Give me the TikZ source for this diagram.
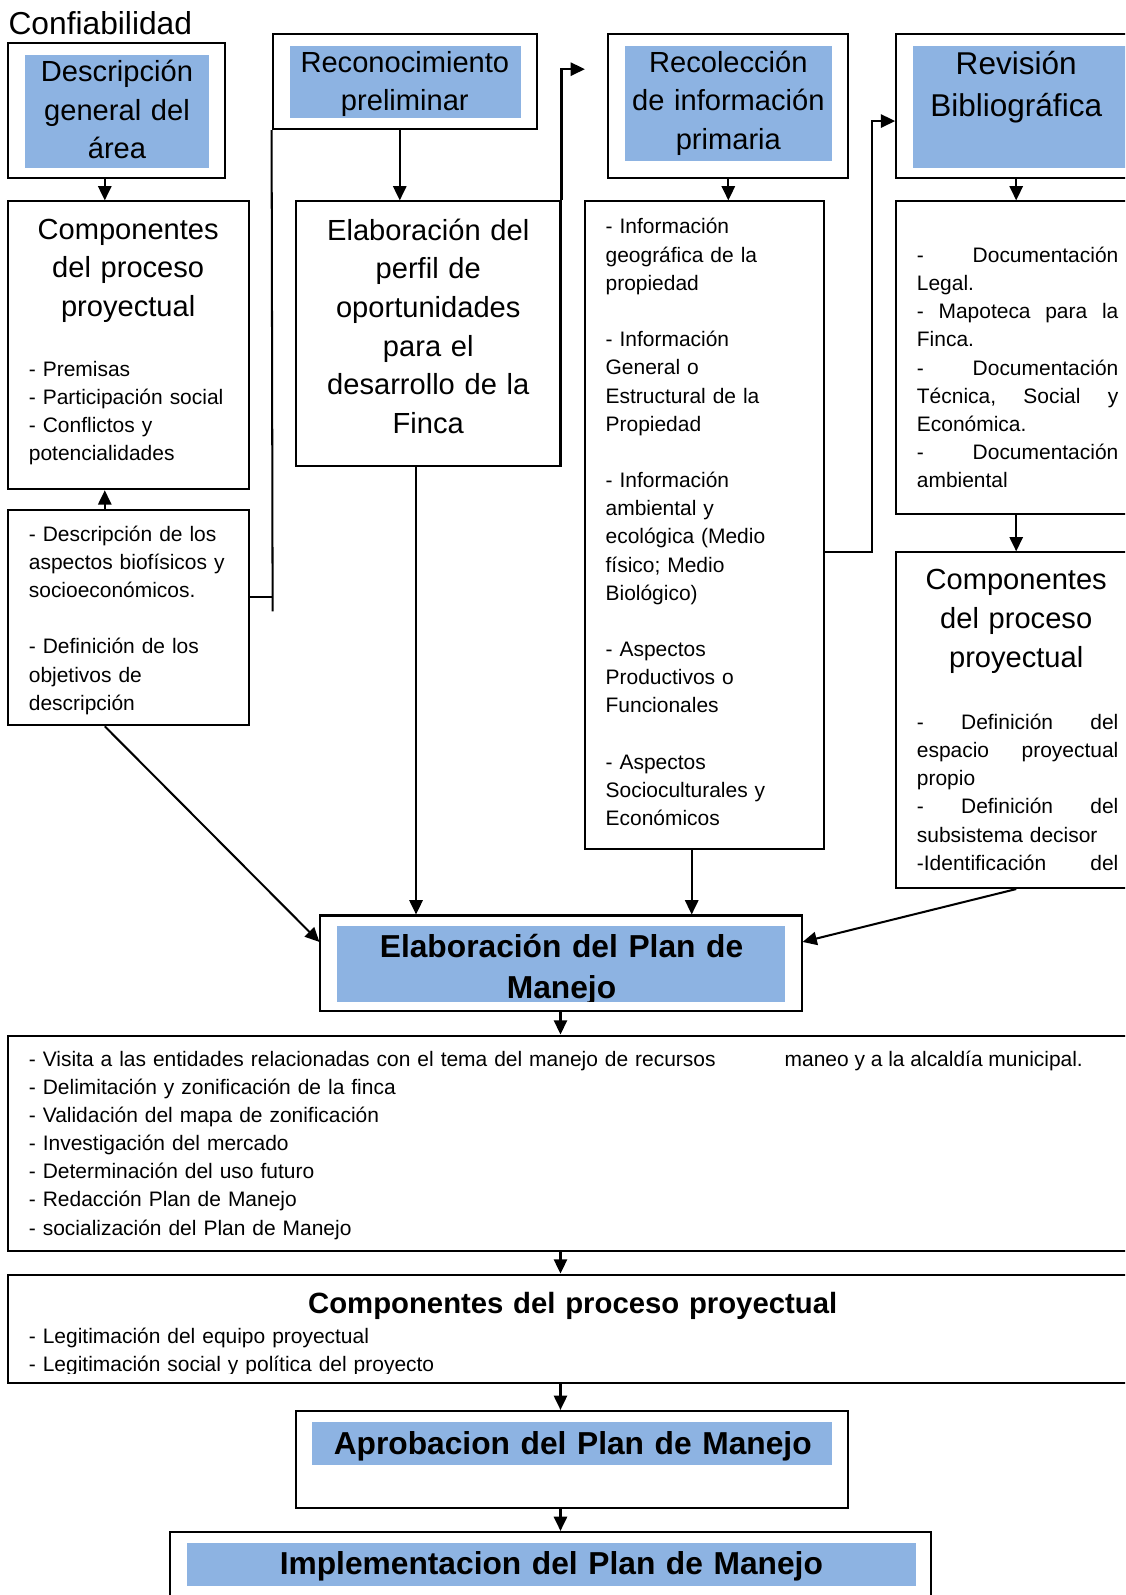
\documentclass[tikz,border=0pt]{standalone}
\usepackage{fontspec}
\setmainfont{Liberation Sans}
\usetikzlibrary{arrows.meta,fit}
\definecolor{azulcaja}{HTML}{8DB3E2}

\begin{document}
\begin{tikzpicture}[x=0.5pt,y=-0.5pt,
            >={Triangle[length=7pt,width=6.5pt]},
            caja/.style={draw,line width=1pt,inner sep=0pt},
            fondo/.style={fill=azulcaja,inner sep=0pt},
            titulo/.style={font=\fontsize{14.3}{19}\selectfont,align=center,inner sep=0pt,anchor=base},
            lista/.style={font=\fontsize{10.3}{13.85}\selectfont,align=left,inner sep=0pt,anchor=base west},
            negrita/.style={font=\bfseries\fontsize{15.6}{20.5}\selectfont,align=center,inner sep=0pt,anchor=base},
            linea/.style={line width=1pt}]
            \useasboundingbox (0,0) rectangle (1106,1568);
            \clip (0,0) rectangle (1106,1568);

            \node[anchor=base west,inner sep=0pt,font=\fontsize{15.6}{18}\selectfont] (conf) at (8,34) {Confiabilidad};

            \node[caja,fit={(8,42)(221,175)}] (A) {};
            \node[fondo,fit={(25,54)(205,165)}] (Ab) {};
            \node[titulo,text width=90pt] (At) at (115,80) {Descripción\\general del\\área};

            \node[caja,fit={(268,33)(528,127)}] (B) {};
            \node[fondo,fit={(285,45)(512,116)}] (Bb) {};
            \node[titulo,text width=112pt] (Bt) at (398,71) {Reconocimiento\\preliminar};

            \node[caja,fit={(598,33)(834,175)}] (C) {};
            \node[fondo,fit={(614,45)(818,158)}] (Cb) {};
            \node[titulo,text width=100pt] (Ct) at (716,71) {Recolección\\de información\\primaria};

            \node[caja,fit={(881,33)(1130,175)}] (D) {};
            \node[fondo,fit={(898,45)(1120,165)}] (Db) {};
            \node[titulo,font=\fontsize{15.5}{21}\selectfont,text width=100pt] (Dt) at (999,73) {Revisión\\Bibliográfica};

            \node[caja,fit={(8,198)(245,481)}] (E) {};
            \node[titulo,text width=112pt] (Et) at (126,235) {Componentes\\del proceso\\proyectual};
            \node[lista,text width=105pt] (El) at (28,370) {- Premisas\\- Participación social\\- Conflictos y\\potencialidades};

            \node[caja,fit={(291,198)(551,458)}] (F) {};
            \node[titulo,text width=125pt] (Ft) at (421,236) {Elaboración del\\perfil de\\oportunidades\\para el\\desarrollo de la\\Finca};

            \node[caja,fit={(575,198)(810,835)}] (G) {};
            \node[lista,text width=105pt] (Gl) at (595,230) {- Información\\geográfica de la\\propiedad\\[13.85pt]- Información\\General o\\Estructural de la\\Propiedad\\[13.85pt]- Información\\ambiental y\\ecológica (Medio\\físico; Medio\\Biológico)\\[13.85pt]- Aspectos\\Productivos o\\Funcionales\\[13.85pt]- Aspectos\\Socioculturales y\\Económicos};

            \node[caja,fit={(881,198)(1130,505)}] (H) {};
            \node[lista,text width=99pt] (Hl) at (901,258) {-\hfill Documentación\\Legal.\\-\hfill Mapoteca\hfill para\hfill la\\Finca.\\-\hfill Documentación\\Técnica,\hfill Social\hfill y\\Económica.\\-\hfill Documentación\\ambiental};

            \node[caja,fit={(8,501)(245,713)}] (I) {};
            \node[lista,text width=105pt] (Il) at (28,532) {- Descripción de los\\aspectos biofísicos y\\socioeconómicos.\\[13.85pt]- Definición de los\\objetivos de\\descripción};

            \node[caja,fit={(881,543)(1130,873)}] (J) {};
            \node[titulo,text width=110pt] (Jt) at (999,580) {Componentes\\del proceso\\proyectual};
            \node[lista,text width=99pt] (Jl) at (901,717) {-\hfill Definición\hfill del\\espacio\hfill proyectual\\propio\\-\hfill Definición\hfill del\\subsistema decisor\\-Identificación\hfill del};

            \node[caja,fit={(315,900)(788,994)}] (K) {};
            \node[fondo,fit={(331,910)(772,985)}] (Kb) {};
            \begin{scope}
                \clip (331,910) rectangle (772,985);
                \node[negrita,text width=215pt] (Kt) at (552,941) {Elaboración del Plan de\\Manejo};
            \end{scope}

            \node[caja,fit={(8,1018)(1130,1230)}] (L) {};
            \node[lista,text width=360pt] (Ll) at (28,1048) {- Visita a las entidades relacionadas con el tema del manejo de recursos\\- Delimitación y zonificación de la finca\\- Validación del mapa de zonificación\\- Investigación del mercado\\- Determinación del uso futuro\\- Redacción Plan de Manejo\\- socialización del Plan de Manejo};
            \node[lista] (Lr) at (771,1048) {maneo y a la alcaldía municipal.};

            \node[caja,fit={(8,1253)(1130,1360)}] (M) {};
            \node[negrita,font=\bfseries\fontsize{14.4}{18}\selectfont,text width=300pt] (Mt) at (563,1291) {Componentes del proceso proyectual};
            \begin{scope}
                \clip (8,1253) rectangle (1106,1350);
                \node[lista,text width=300pt] (Ml) at (28,1321) {- Legitimación del equipo proyectual\\- Legitimación social y política del proyecto};
            \end{scope}

            \node[caja,fit={(291,1387)(834,1482)}] (N) {};
            \node[fondo,fit={(307,1398)(818,1440)}] (Nb) {};
            \node[negrita,text width=260pt] (Nt) at (563,1430) {Aprobacion del Plan de Manejo};

            \node[caja,fit={(167,1506)(915,1620)}] (O) {};
            \node[fondo,fit={(184,1517)(900,1559)}] (Ob) {};
            \node[negrita,text width=350pt] (Ot) at (542,1548) {Implementacion del Plan de Manejo};

            \coordinate (colA) at (103,0);
            \coordinate (colB) at (393,0);
            \coordinate (colF) at (409,0);
            \coordinate (colG) at (680,0);
            \coordinate (colD) at (999,0);
            \coordinate (colK) at (551,0);
            \coordinate (filaK) at (0,926);
            \coordinate (filaD) at (0,119);
            \coordinate (codoG) at (857,543);
            \coordinate (puntaF) at (575,68);
            \coordinate (cruceI) at (268,587);
            \coordinate (finB) at (268,601);

            \draw[linea,->] (A.south -| colA) -- (E.north -| colA);
            \draw[linea,->] (B.south -| colB) -- (F.north -| colB);
            \draw[linea,->] (C.south) -- (C.south |- G.north);
            \draw[linea,->] (D.south -| colD) -- (H.north -| colD);
            \draw[linea,->] (H.south -| colD) -- (J.north -| colD);
            \draw[linea,->] (I.north -| colA) -- (E.south -| colA);
            \draw[linea] (B.south west) -- (finB);
            \draw[linea] (I.east |- cruceI) -- (cruceI);
            \draw[linea,->] (F.north east) |- (puntaF);
            \draw[linea,->] (G.east |- codoG) -- (codoG) |- (D.west |- filaD);
            \draw[linea,->] (I.south -| colA) -- (K.west |- filaK);
            \draw[linea,->] (F.south -| colF) -- (K.north -| colF);
            \draw[linea,->] (G.south -| colG) -- (K.north -| colG);
            \draw[linea,->] (J.south -| colD) -- (K.east |- filaK);
            \draw[linea,->] (K.south -| colK) -- (L.north -| colK);
            \draw[linea,->] (L.south -| colK) -- (M.north -| colK);
            \draw[linea,->] (M.south -| colK) -- (N.north -| colK);
            \draw[linea,->] (N.south -| colK) -- (O.north -| colK);
        \end{tikzpicture}
\end{document}
